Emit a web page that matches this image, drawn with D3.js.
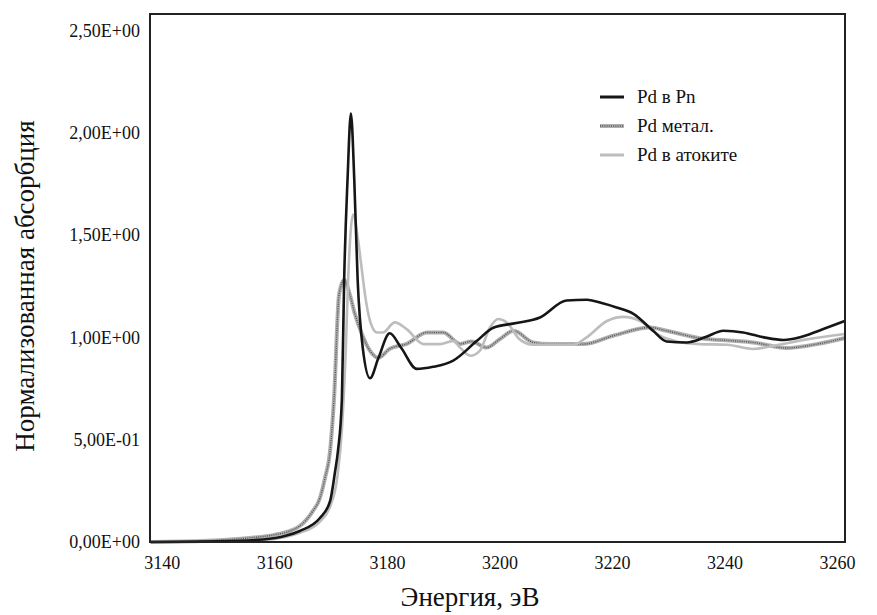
<!DOCTYPE html>
<html>
<head>
<meta charset="utf-8">
<script src="https://cdn.jsdelivr.net/npm/d3@7"></script>
<style>
  html, body { margin: 0; padding: 0; background: #fff; }
</style>
</head>
<body>
<div id="chart"></div>
<script>
// energies (eV) and normalized absorption
const pnEnergy = [3138, 3150, 3158, 3162, 3164.5, 3168.1, 3169.9, 3170.8, 3171.3, 3172, 3172.4, 3173, 3173.6, 3174.2, 3174.8, 3175.7, 3177, 3178.5, 3180.5, 3182.5, 3185.3, 3188.2, 3191.7, 3196, 3198.9, 3203, 3207.2, 3211.9, 3215.5, 3218.5, 3220.8, 3223.8, 3227.3, 3229.7, 3233.3, 3236.5, 3239.8, 3243.3, 3247, 3250.5, 3253.4, 3257, 3261.4];
const pnValue = [0.0, 0.003, 0.012, 0.03, 0.054, 0.117, 0.2, 0.347, 0.445, 0.70, 1.28, 1.77, 2.094, 1.77, 1.28, 0.95, 0.80, 0.90, 1.02, 0.95, 0.846, 0.856, 0.885, 0.983, 1.047, 1.07, 1.097, 1.18, 1.184, 1.165, 1.146, 1.115, 1.032, 0.98, 0.975, 1.0, 1.032, 1.024, 1.0, 0.987, 1.0, 1.035, 1.08];

const metalEnergy = [3138, 3148, 3155.6, 3160, 3162.8, 3164.5, 3166.8, 3168.1, 3169, 3169.9, 3170.6, 3171.5, 3172.4, 3173.4, 3174.3, 3175.5, 3177, 3178.5, 3180.5, 3183.5, 3187.1, 3190, 3193, 3195, 3197.7, 3200, 3202.5, 3206, 3209, 3214.9, 3220.2, 3226.8, 3229.7, 3235.6, 3241.6, 3245.1, 3251, 3256.4, 3261.4];
const metalValue = [0.0, 0.006, 0.02, 0.035, 0.054, 0.078, 0.15, 0.215, 0.313, 0.445, 0.70, 1.21, 1.28, 1.21, 1.115, 1.02, 0.934, 0.90, 0.944, 0.968, 1.024, 1.024, 0.968, 0.98, 0.95, 0.99, 1.032, 0.975, 0.967, 0.967, 1.008, 1.048, 1.032, 0.996, 0.983, 0.975, 0.948, 0.967, 0.997];

const atokEnergy = [3138, 3150, 3158, 3162, 3164.5, 3168.1, 3170, 3171.2, 3172, 3172.7, 3173.1, 3174, 3174.9, 3175.5, 3176.1, 3177, 3178.2, 3179.3, 3181.4, 3183.5, 3186.5, 3189.4, 3191.8, 3193, 3194.8, 3196.5, 3198.3, 3199.8, 3201.3, 3203.6, 3206, 3209, 3213.1, 3215.5, 3219.1, 3222, 3225, 3228.5, 3231.5, 3235.6, 3240.4, 3245.1, 3248.7, 3254.6, 3261.4];
const atokValue = [0.0, 0.003, 0.01, 0.025, 0.045, 0.10, 0.18, 0.32, 0.55, 0.95, 1.277, 1.60, 1.47, 1.34, 1.21, 1.08, 1.024, 1.024, 1.073, 1.04, 0.967, 0.967, 0.983, 0.95, 0.91, 0.934, 1.048, 1.09, 1.073, 0.99, 0.964, 0.964, 0.964, 1.0, 1.08, 1.10, 1.08, 1.008, 0.98, 0.967, 0.964, 0.943, 0.959, 0.99, 1.016];

const seriesNames = ["Pd в Pn", "Pd метал.", "Pd в атоките"];

const xTicks = [3140, 3160, 3180, 3200, 3220, 3240, 3260];
const yTicks = [0, 0.5, 1.0, 1.5, 2.0, 2.5];
const yTickLabels = ["0,00E+00", "5,00E-01", "1,00E+00", "1,50E+00", "2,00E+00", "2,50E+00"];

const fullWidth = 877, fullHeight = 615;
const box = { left: 150, right: 845, top: 14, bottom: 542 };
const serif = "Liberation Serif";

const svg = d3.select("#chart")
  .append("svg")
  .attr("width", fullWidth)
  .attr("height", fullHeight);

const x = d3.scaleLinear()
  .domain([3137.9, 3261.4])
  .range([box.left, box.right]);

const y = d3.scaleLinear()
  .domain([0, 2.58])
  .range([box.bottom, box.top]);

// === Axes (labels only, no tick marks) ===
const xAxis = svg.append("g")
  .attr("transform", `translate(0, ${box.bottom})`)
  .call(d3.axisBottom(x).tickValues(xTicks).tickSize(0).tickPadding(14).tickFormat(d3.format("d")))
  .attr("font-family", serif)
  .attr("font-size", 18);
xAxis.select(".domain").remove();
xAxis.selectAll("text")
  .style("font-family", serif)
  .style("font-size", "18px")
  .style("fill", "#111");

const yAxis = svg.append("g")
  .attr("transform", `translate(${box.left}, 0)`)
  .call(d3.axisLeft(y).tickValues(yTicks).tickSize(0).tickPadding(10)
    .tickFormat((d, i) => yTickLabels[i]))
  .attr("font-family", serif)
  .attr("font-size", 18);
yAxis.select(".domain").remove();
yAxis.selectAll("text")
  .style("font-family", serif)
  .style("font-size", "18px")
  .style("fill", "#111");

// === Lines ===
const line = d3.line()
  .x(d => x(d[0]))
  .y(d => y(d[1]))
  .curve(d3.curveMonotoneX);

const zip = (a, b) => a.map((v, i) => [v, b[i]]);
const plot = svg.append("g");

// metal: hatched look, light outline with dark dots
plot.append("path")
  .datum(zip(metalEnergy, metalValue))
  .attr("d", line)
  .attr("fill", "none")
  .attr("stroke", "#b0b0b0")
  .attr("stroke-width", 4);
plot.append("path")
  .datum(zip(metalEnergy, metalValue))
  .attr("d", line)
  .attr("fill", "none")
  .attr("stroke", "#555")
  .attr("stroke-width", 1.4)
  .attr("stroke-dasharray", "1,1.2");

plot.append("path")
  .datum(zip(atokEnergy, atokValue))
  .attr("d", line)
  .attr("fill", "none")
  .attr("stroke", "#bdbdbd")
  .attr("stroke-width", 2.6);

plot.append("path")
  .datum(zip(pnEnergy, pnValue))
  .attr("d", line)
  .attr("fill", "none")
  .attr("stroke", "#161616")
  .attr("stroke-width", 2.6);

// === Frame ===
svg.append("rect")
  .attr("x", box.left)
  .attr("y", box.top)
  .attr("width", box.right - box.left)
  .attr("height", box.bottom - box.top)
  .attr("fill", "none")
  .attr("stroke", "#222")
  .attr("stroke-width", 2);

// === Axis titles ===
svg.append("text")
  .attr("x", 470)
  .attr("y", 606)
  .attr("text-anchor", "middle")
  .style("font-family", serif)
  .style("font-size", "27px")
  .style("fill", "#111")
  .text("Энергия, эВ");

svg.append("text")
  .attr("transform", `translate(34, 286) rotate(-90)`)
  .attr("text-anchor", "middle")
  .style("font-family", serif)
  .style("font-size", "27px")
  .style("fill", "#111")
  .text("Нормализованная абсорбция");

// === Legend ===
const legend = svg.append("g").attr("transform", "translate(600, 97)");
const legendStyles = [
  { stroke: "#161616", width: 3 },
  { stroke: "#b0b0b0", width: 4, dots: true },
  { stroke: "#bdbdbd", width: 3 }
];
seriesNames.forEach((name, i) => {
  const g = legend.append("g").attr("transform", `translate(0, ${i * 29})`);
  const s = legendStyles[i];
  g.append("line")
    .attr("x1", 0).attr("x2", 24).attr("y1", 0).attr("y2", 0)
    .attr("stroke", s.stroke).attr("stroke-width", s.width);
  if (s.dots) {
    g.append("line")
      .attr("x1", 0).attr("x2", 24).attr("y1", 0).attr("y2", 0)
      .attr("stroke", "#555").attr("stroke-width", 1.4)
      .attr("stroke-dasharray", "1,1.2");
  }
  g.append("text")
    .attr("x", 37)
    .attr("y", 6)
    .style("font-family", serif)
    .style("font-size", "19px")
    .style("fill", "#111")
    .text(name);
});
</script>
</body>
</html>
